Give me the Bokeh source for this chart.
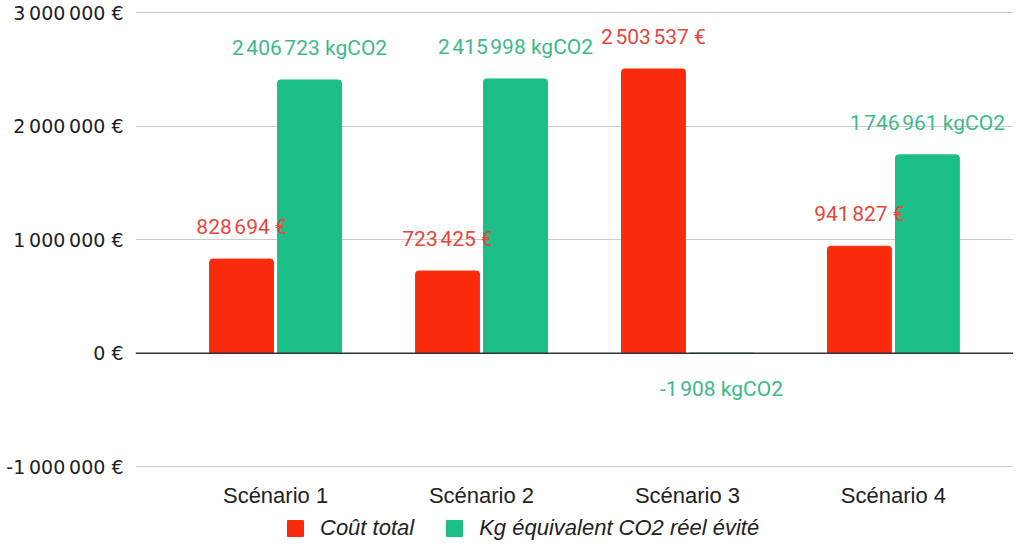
from bokeh.plotting import figure
from bokeh.models import ColumnDataSource, FixedTicker, Span, Legend, LegendItem
from bokeh.core.properties import value
from bokeh.embed import file_html
from bokeh.resources import INLINE

# ---- data ----
scenarios = ["Scénario 1", "Scénario 2", "Scénario 3", "Scénario 4"]
cout_total = [828694, 723425, 2503537, 941827]
co2_evite = [2406723, 2415998, -1908, 1746961]
series_names = ["Coût total", "Kg équivalent CO2 réel évité"]
y_ticks = [-1000000, 0, 1000000, 2000000, 3000000]
y_tick_labels = ["-1\u202f000\u202f000 €", "0 €", "1\u202f000\u202f000 €",
                 "2\u202f000\u202f000 €", "3\u202f000\u202f000 €"]

RED = "#fa2b0c"
GREEN = "#1cbe88"
RED_TXT = "#e6463c"
GREEN_TXT = "#3db98a"


def fmt(v):
    s = f"{abs(v):,}".replace(",", "\u202f")
    return ("-" if v < 0 else "") + s


pos = [i + 1 for i in range(len(scenarios))]
off = 0.165
bw = 0.31

src_cost = ColumnDataSource(dict(
    x=[p - off for p in pos], top=cout_total,
    label=[fmt(v) + " €" for v in cout_total],
    yoff=[-32 if v >= 0 else 36 for v in cout_total],
))
src_co2 = ColumnDataSource(dict(
    x=[p + off for p in pos], top=co2_evite,
    label=[fmt(v) + " kgCO2" for v in co2_evite],
    yoff=[-32 if v >= 0 else 36 for v in co2_evite],
))

# frame runs down to the bottom of the figure so that the category labels
# and the legend can sit under the -1 000 000 € line
p = figure(width=1013, height=543, x_range=(0.32, 4.583), y_range=(-1677000, 3010000),
           output_backend="svg", toolbar_location=None,
           min_border_left=135, min_border_right=0, min_border_top=11, min_border_bottom=0)
p.outline_line_color = None
p.background_fill_color = "white"

r1 = p.vbar(x="x", top="top", bottom=0, width=bw, source=src_cost, color=RED,
            border_radius=(3, 3, 0, 0))
r2 = p.vbar(x="x", top="top", bottom=0, width=bw, source=src_co2, color=GREEN,
            border_radius=(3, 3, 0, 0))

p.add_layout(Span(location=0, dimension="width", line_color="#333333", line_width=1.5))

for src, col in ((src_cost, RED_TXT), (src_co2, GREEN_TXT)):
    p.text(x="x", y="top", text="label", source=src, y_offset="yoff",
           text_align="center", text_baseline="middle", text_color=col,
           text_font=value("Roboto"), text_font_size="21px")

# axes
p.yaxis.ticker = FixedTicker(ticks=y_ticks)
p.yaxis.major_label_overrides = dict(zip(y_ticks, y_tick_labels))
p.yaxis.axis_line_color = None
p.yaxis.major_tick_line_color = None
p.yaxis.minor_tick_line_color = None
p.yaxis.major_label_text_font = "DejaVu Sans"
p.yaxis.major_label_text_font_size = "19px"
p.yaxis.major_label_text_color = "#222222"
p.yaxis.major_label_standoff = 6

p.xaxis.fixed_location = y_ticks[0]
p.xaxis.ticker = FixedTicker(ticks=pos)
p.xaxis.major_label_overrides = dict(zip(pos, scenarios))
p.xaxis.axis_line_color = None
p.xaxis.major_tick_line_color = None
p.xaxis.minor_tick_line_color = None
p.xaxis.major_label_text_font = "Liberation Sans"
p.xaxis.major_label_text_font_size = "22px"
p.xaxis.major_label_text_color = "#222222"
p.xaxis.major_label_standoff = 10

p.xgrid.grid_line_color = None
p.ygrid.ticker = FixedTicker(ticks=y_ticks)
p.ygrid.grid_line_color = "#cccccc"

legend = Legend(items=[LegendItem(label=series_names[0], renderers=[r1]),
                       LegendItem(label=series_names[1], renderers=[r2])],
                orientation="horizontal", location=(150, 2),
                label_text_font="Liberation Sans", label_text_font_style="italic",
                label_text_font_size="22px", label_text_color="#222222",
                glyph_width=20, glyph_height=20, label_standoff=15, spacing=30,
                padding=0, margin=0, border_line_color=None,
                background_fill_alpha=0)
p.add_layout(legend, "center")

open("out.html", "w").write(file_html(p, INLINE))
